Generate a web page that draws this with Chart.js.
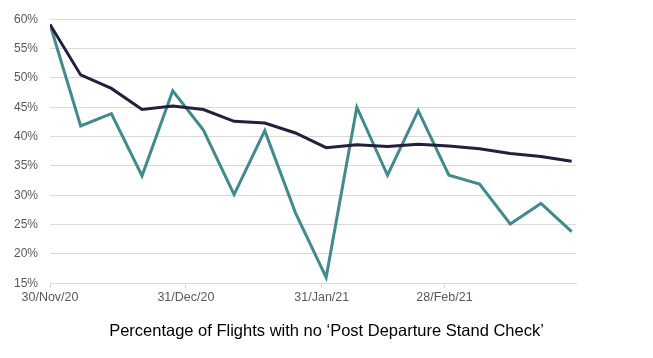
<!DOCTYPE html>
<html>
<head>
<meta charset="utf-8">
<script src="https://cdn.jsdelivr.net/npm/chart.js@4/dist/chart.umd.min.js"></script>
<style>
  html, body { margin: 0; padding: 0; background: #fff; }
  #wrap { width: 653px; height: 358px; }
</style>
</head>
<body>
<div id="wrap"><canvas id="flights"></canvas></div>
<script>
// days since 30/Nov/20 for each weekly point
const weekDays = [0, 7, 14, 21, 28, 35, 42, 49, 56, 63, 70, 77, 84, 91, 98, 105, 112, 119];
const weeklyPct = [59.1, 41.8, 43.9, 33.3, 47.8, 41.1, 30.1, 41.0, 27.0, 16.0, 45.0, 33.4, 44.4, 33.4, 31.9, 25.1, 28.6, 23.8];
const cumulativePct = [59.1, 50.5, 48.2, 44.6, 45.2, 44.6, 42.6, 42.3, 40.6, 38.1, 38.6, 38.3, 38.7, 38.4, 37.9, 37.1, 36.6, 35.8];
const tickDays = [0, 31, 62, 90];
const tickLabels = ['30/Nov/20', '31/Dec/20', '31/Jan/21', '28/Feb/21'];
const titleText = 'Percentage of Flights with no \u2018Post Departure Stand Check\u2019';

const toPoints = arr => arr.map((v, i) => ({ x: weekDays[i], y: v }));

var ctx = document.getElementById('flights').getContext('2d');
var flightsChart = new Chart(ctx, {
    type: 'line',
    data: {
        datasets: [
            {
                label: 'Cumulative',
                data: toPoints(cumulativePct),
                borderColor: '#241f3d',
                borderWidth: 3,
                pointRadius: 0,
                tension: 0
            },
            {
                label: 'Weekly',
                data: toPoints(weeklyPct),
                borderColor: '#418a8d',
                borderWidth: 3,
                pointRadius: 0,
                tension: 0
            }
        ]
    },
    options: {
        responsive: true,
        maintainAspectRatio: false,
        animation: false,
        layout: {
            padding: { top: 8, right: 0, left: 0, bottom: 17 }
        },
        plugins: {
            legend: { display: false },
            tooltip: { enabled: false },
            title: {
                display: true,
                text: titleText,
                position: 'bottom',
                color: '#000',
                font: { family: 'Liberation Sans', size: 16.5, weight: 'normal' },
                padding: { top: 14, bottom: 0 }
            }
        },
        scales: {
            x: {
                type: 'linear',
                min: 0,
                max: 120,
                afterBuildTicks: axis => {
                    axis.ticks = tickDays.map(v => ({ value: v }));
                },
                ticks: {
                    autoSkip: false,
                    maxRotation: 0,
                    color: '#595959',
                    font: { family: 'Liberation Sans', size: 12.5 },
                    padding: 2,
                    callback: value => tickLabels[tickDays.indexOf(value)]
                },
                grid: {
                    drawOnChartArea: false,
                    color: '#d9d9d9',
                    tickLength: 5
                },
                border: { color: '#d9d9d9', width: 1 }
            },
            y: {
                min: 15,
                max: 60,
                afterFit: axis => { axis.width = 50; },
                ticks: {
                    stepSize: 5,
                    color: '#595959',
                    font: { family: 'Liberation Sans', size: 12 },
                    padding: 12,
                    callback: value => value + '%'
                },
                grid: {
                    color: '#d9d9d9',
                    drawTicks: false
                },
                border: { display: false }
            },
            // empty right-hand axis, only to leave the blank margin on the right
            spacer: {
                position: 'right',
                min: 15,
                max: 60,
                afterFit: axis => { axis.width = 77; },
                ticks: { display: false },
                grid: { display: false },
                border: { display: false }
            }
        }
    }
});
</script>
</body>
</html>
